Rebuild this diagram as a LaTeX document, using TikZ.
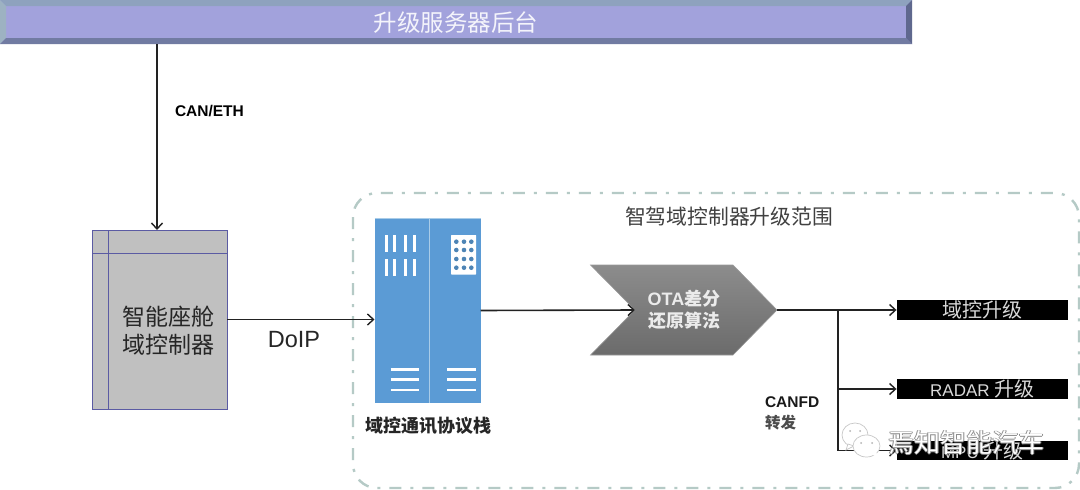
\documentclass[tikz,border=0pt]{standalone}
\usepackage{fontspec}
\setmainfont{Liberation Sans}
\newfontfamily\cjk{Noto Sans CJK SC}
\usetikzlibrary{arrows.meta,calc}
\definecolor{barface}{HTML}{A2A2DC}
\definecolor{bartop}{HTML}{8EA2BE}
\definecolor{barleft}{HTML}{9DB2C2}
\definecolor{barbottom}{HTML}{717BA2}
\definecolor{barright}{HTML}{5F688E}
\definecolor{seatfill}{HTML}{C0C0C0}
\definecolor{seatline}{HTML}{5B5BA3}
\definecolor{serverblue}{HTML}{5B9BD5}
\definecolor{serverline}{HTML}{A9CCE8}
\definecolor{scopeline}{HTML}{B5CAC6}
\definecolor{wire}{HTML}{222222}
\tikzset{
  conn/.style={draw=wire,line width=1.6pt},
  arrowed/.style={conn,-{Straight Barb[length=6pt,width=11pt,line width=1.4pt]}},
  upbox/.style={fill=black,text=white!85!black,inner sep=0pt,outer sep=0pt,minimum width=171.5pt,minimum height=19.5pt,font=\fontsize{17}{17}\selectfont},
  label/.style={inner sep=0pt,outer sep=0pt,align=center},
  panelline/.style={draw=white,line width=2.4pt},
  bubble/.style={fill=white,draw=black!22,line width=0.7pt},
}
\begin{document}
\begin{tikzpicture}[x=1pt,y=-1pt]
\path[use as bounding box,fill=white] (0,0) rectangle (1080,490);

% top bar with bevel
\node[inner sep=0pt,outer sep=0pt,minimum width=912pt,minimum height=44pt] (bar) at (456,22) {};
\fill[barface] (0,0) rectangle (912,44);
\fill[bartop] (0,0) -- (912,0) -- (906,6) -- (6,6) -- cycle;
\fill[barleft] (0,0) -- (6,6) -- (6,38) -- (0,44) -- cycle;
\fill[barbottom] (0,44) -- (6,38) -- (906,38) -- (912,44) -- cycle;
\fill[barright] (912,0) -- (906,6) -- (906,38) -- (912,44) -- cycle;
\node[label,text=white!88!barface,font=\cjk\fontsize{23.5}{23.5}\selectfont] (bartext) at (456,23) {升级服务器后台};

% scope frame
\draw[scopeline,line width=2.4pt,rounded corners=24pt,dash pattern=on 12pt off 9pt on 3pt off 9pt] (353,193) rectangle (1079,488);
\node[label,text=black!75,font=\cjk\fontsize{20.8}{20.8}\selectfont] (scopetext) at (729,217) {智驾域控制器升级范围};

% cockpit controller
\node[draw=seatline,fill=seatfill,line width=0.8pt,inner sep=0pt,outer sep=0pt,minimum width=135pt,minimum height=179pt] (seat) at (159.5,319.5) {};
\draw[seatline,line width=0.8pt] (108,230) -- (108,409) (92,253) -- (227,253);
\node[label,text=black!85,font=\cjk\fontsize{23}{28}\selectfont] (seattext) at (168,331) {智能座舱\\域控制器};

% server
\node[fill=serverblue,inner sep=0pt,outer sep=0pt,minimum width=106pt,minimum height=185pt] (server) at (427.5,310.5) {};
\draw[serverline,line width=1pt] (429,218) -- (429,403);
\draw[serverline,line width=0.8pt] (374.5,218) -- (480.5,218);
\foreach \xx in {386.2,394.8,405.8,414.5} \foreach \yy in {235,259}
  \fill[white] (\xx-1.5,\yy) rectangle (\xx+1.5,\yy+17);
\fill[white,rounded corners=0.5pt] (451,235) rectangle (476,274.5);
\foreach \xx in {456.3,464,471.3} \foreach \yy in {241.7,250,259,267.7}
  \fill[serverblue!85!black] (\xx,\yy) circle (2.3);
\foreach \yy in {369.5,379.5,390}{
  \draw[panelline] (390.7,\yy) -- (419.3,\yy);
  \draw[panelline] (447.3,\yy) -- (476,\yy);
}
\node[label,text=black!85,font=\cjk\bfseries\fontsize{18}{18}\selectfont] (stacktext) at (428,425.5) {域控通讯协议栈};

% chevron
\coordinate (notch) at (635,310);
\coordinate (tip) at (777,310);
\shade[top color=black!45,bottom color=black!58,draw=black!40,line width=0.6pt]
  (590.5,265) -- (733,265) -- (tip) -- (733,355) -- (590.5,355) -- (notch) -- cycle;
\node[label,text=white!92!black,font=\fontsize{18}{22}\selectfont\bfseries] (otatext) at (684,310) {OTA{\cjk 差分}\\{\cjk 还原算法}};

% target boxes
\node[upbox,font=\cjk\fontsize{20}{20}\selectfont] (box1) at (982.3,310) {域控升级};
\node[upbox] (box2) at (982.3,389) {RADAR {\cjk\fontsize{20}{20}\selectfont 升级}};
\node[upbox] (box3) at (982.3,450.5) {MPU {\cjk\fontsize{20}{20}\selectfont 升级}};

% connectors
\draw[arrowed] ([xshift=-2.5pt]seat.north |- bar.south) -- ([xshift=-2.5pt]seat.north);
\draw[arrowed] (seat.east) -- (seat.east -| server.west);
\draw[arrowed] (server.east) -- (notch);
\coordinate (branch) at (838,310);
\draw[arrowed] (tip) -- (box1.west);
\draw[arrowed] (branch |- box2.west) -- (box2.west);
\draw[arrowed] (branch) -- (branch |- box3.west) -- (box3.west);

% labels
\node[label,anchor=west,font=\bfseries\fontsize{15.5}{15.5}\selectfont] (canlabel) at (175,111) {CAN/ETH};
\node[label,font=\fontsize{23.5}{23.5}\selectfont,text=black!85] (doip) at (294,340) {DoIP};
\node[label,anchor=west,font=\bfseries\fontsize{15.5}{15.5}\selectfont,text=black!90] (canfd) at (765,402.5) {CANFD};
\node[label,anchor=west,font=\cjk\bfseries\fontsize{15.5}{15.5}\selectfont,text=black!70] (fwd) at (765,423) {转发};

% watermark
\path[bubble] (855,435) ellipse (13 and 12);
\path[bubble] (848,444) -- (846,450) -- (854,446) -- cycle;
\path[bubble] (866.5,446) ellipse (13.5 and 11);
\fill[white] (872,454) -- (878,458) -- (876,451) -- cycle;
\fill[black!30] (850,431) circle (1) (860,431) circle (1) (861,443) circle (1) (872,443) circle (1);
\foreach \dx/\dy in {-0.7/0,0.7/0,0/-0.7,0/0.7}
  \node[label,text=black!45,font=\cjk\fontsize{26}{26}\selectfont] at (966.5+\dx,443+\dy) {焉知智能汽车};
\node[label,text=white,font=\cjk\fontsize{26}{26}\selectfont] (mark) at (966.5,443) {焉知智能汽车};
\end{tikzpicture}
\end{document}
